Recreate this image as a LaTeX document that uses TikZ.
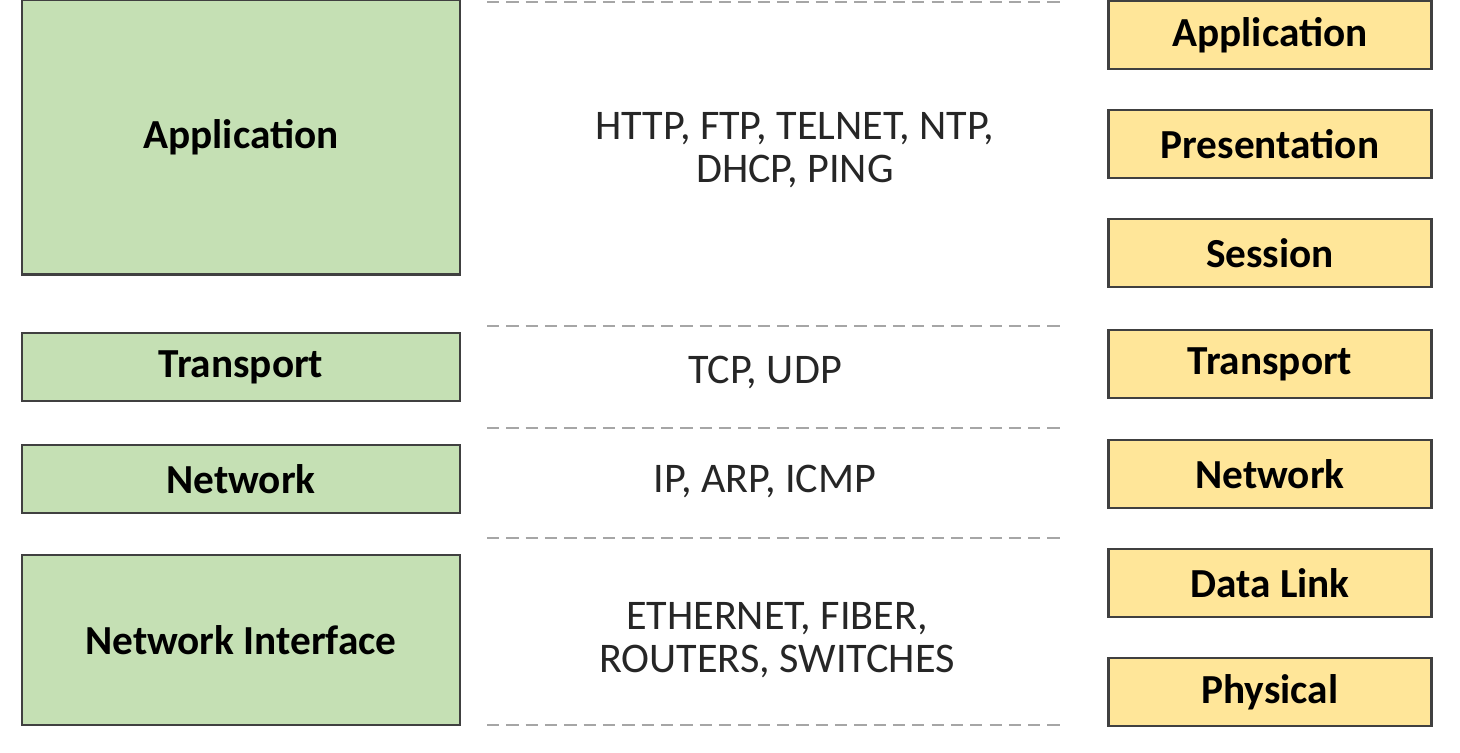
\documentclass[tikz,border=0pt]{standalone}
\usepackage{fontspec}
\setmainfont{Carlito}
\usepackage{tikz}
\definecolor{tcpgreen}{HTML}{C5E0B4}
\definecolor{osiyellow}{HTML}{FFE699}
\definecolor{edgegray}{HTML}{404040}
\tikzset{
  tcp/.style={draw=edgegray, line width=1.2pt, fill=tcpgreen, minimum width=8.76cm, font=\fontsize{23.5}{28}\selectfont\bfseries},
  osi/.style={draw=edgegray, line width=1.2pt, fill=osiyellow, minimum width=6.46cm, minimum height=1.36cm, font=\fontsize{23.5}{28}\selectfont\bfseries},
  proto/.style={align=center, font=\fontsize{24}{24.5}\selectfont, text=black!85},
  sep/.style={dashed, dash pattern=on 7pt off 4pt, line width=1.4pt, draw=black!35}
}
\begin{document}
\begin{tikzpicture}[x=0.02cm, y=-0.02cm]
\useasboundingbox (0,0) rectangle (1460,752);
% TCP/IP layers
\node[tcp, minimum height=5.5cm] (app) at (241,137) {Application};
\node[tcp, minimum height=1.36cm] (trans) at (241,367) {Transport};
\node[tcp, minimum height=1.36cm] (net) at (241,479) {Network};
\node[tcp, minimum height=3.4cm] (nif) at (241,640) {Network Interface};
% OSI layers
\node[osi] (oapp) at (1270,35) {Application};
\node[osi] (opres) at (1270,144) {Presentation};
\node[osi] (osess) at (1270,253) {Session};
\node[osi] (otrans) at (1270,364) {Transport};
\node[osi] (onet) at (1270,474) {Network};
\node[osi] (olink) at (1270,583) {Data Link};
\node[osi] (ophys) at (1270,692) {Physical};
% protocols
\node[proto] (papp) at (795,150) {HTTP, FTP, TELNET, NTP,\\DHCP, PING};
\node[proto] (ptrans) at (765,373) {TCP, UDP};
\node[proto] (pnet) at (765,482) {IP, ARP, ICMP};
\node[proto] (pnif) at (777,640) {ETHERNET, FIBER,\\ROUTERS, SWITCHES};
% separators
\foreach \y/\n in {2/a,326/b,428/c,538/d,725/e} {
  \coordinate (s\n l) at (487,\y);
  \coordinate (s\n r) at (1065,\y);
  \draw[sep] (s\n l) -- (s\n r);
}
\end{tikzpicture}
\end{document}
